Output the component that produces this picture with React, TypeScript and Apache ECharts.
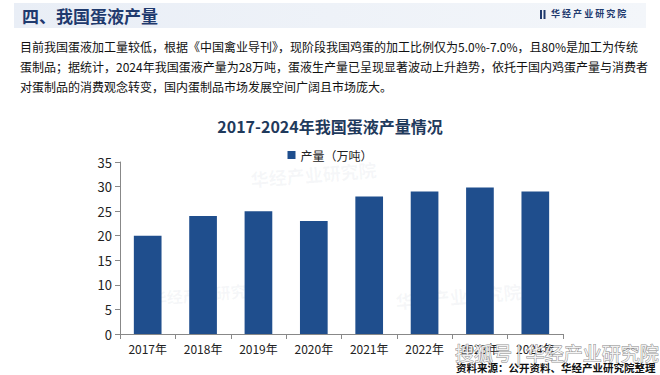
import React, { useEffect, useRef } from "react";
import * as echarts from "echarts";

const categories = ["2017年", "2018年", "2019年", "2020年", "2021年", "2022年", "2023年", "2024年"];
const production = [20, 24, 25, 23, 28, 29, 29.8, 29];
const yTicks = { min: 0, max: 35, interval: 5 };
const seriesName = "产量（万吨）";
const chartTitle = "2017-2024年我国蛋液产量情况";
const heading = "四、我国蛋液产量";
const brand = "华经产业研究院";
const paragraph = [
  "目前我国蛋液加工量较低，根据《中国禽业导刊》，现阶段我国鸡蛋的加工比例仅为5.0%-7.0%，且80%是加工为传统",
  "蛋制品；据统计，2024年我国蛋液产量为28万吨，蛋液生产量已呈现显著波动上升趋势，依托于国内鸡蛋产量与消费者",
  "对蛋制品的消费观念转变，国内蛋制品市场发展空间广阔且市场庞大。",
];
const sourceText = "资料来源：公开资料、华经产业研究院整理";
const stampText = "搜狐号 | 华经产业研究院";

const FONT = "'Noto Sans CJK SC', 'Noto Sans', sans-serif";

export default function App() {
  const ref = useRef<HTMLDivElement>(null);
  useEffect(() => {
    document.body.style.margin = "0";
    const chart = echarts.init(ref.current!, null, { renderer: "svg" });
    const wm = (x: number, y: number, size: number) => ({
      type: "text",
      x,
      y,
      rotation: 0.08,
      silent: true,
      style: { text: brand, fill: "rgba(150,165,190,0.09)", font: `bold ${size}px ${FONT}` },
    });
    chart.setOption({
      animation: false,
      backgroundColor: "#ffffff",
      textStyle: { fontFamily: FONT },
      title: {
        text: chartTitle,
        left: "center",
        top: 113,
        textStyle: { fontSize: 16, fontWeight: "bold", color: "#1f3a5c", fontFamily: FONT },
      },
      legend: {
        data: [seriesName],
        top: 144,
        left: "center",
        itemWidth: 8,
        itemHeight: 8,
        icon: "rect",
        itemGap: 6,
        textStyle: { fontSize: 12, color: "#222", fontFamily: FONT },
      },
      grid: { left: 120, right: 97, top: 162, bottom: 41 },
      xAxis: {
        type: "category",
        data: categories,
        axisLine: { lineStyle: { color: "#888" } },
        axisTick: { show: true, alignWithLabel: false, lineStyle: { color: "#888" } },
        axisLabel: { fontSize: 12, color: "#222", margin: 8, fontFamily: FONT },
      },
      yAxis: {
        type: "value",
        min: yTicks.min,
        max: yTicks.max,
        interval: yTicks.interval,
        splitLine: { show: false },
        axisLine: { show: true, lineStyle: { color: "#888" } },
        axisTick: { show: true, lineStyle: { color: "#888" } },
        axisLabel: { fontSize: 13, color: "#222", margin: 8, fontFamily: FONT },
      },
      series: [
        {
          name: seriesName,
          type: "bar",
          data: production,
          barWidth: "50%",
          itemStyle: { color: "#1f4e8d" },
          z: 3,
        },
      ],
      graphic: [
        {
          type: "rect",
          shape: { x: 14, y: 3, width: 632, height: 25 },
          style: {
            fill: new echarts.graphic.LinearGradient(0, 0, 1, 0, [
              { offset: 0, color: "#e9eef6" },
              { offset: 1, color: "#f3f6fa" },
            ]),
          },
          silent: true,
        },
        {
          type: "text",
          x: 22,
          y: 7,
          style: { text: heading, fill: "#1f3a6e", font: `bold 17px ${FONT}` },
        },
        {
          type: "rect",
          shape: { x: 540, y: 10, width: 2, height: 9 },
          style: { fill: "#1f3a6e" },
        },
        {
          type: "rect",
          shape: { x: 543.5, y: 10, width: 2, height: 9 },
          style: { fill: "#1f3a6e" },
        },
        {
          type: "text",
          x: 551,
          y: 9,
          style: { text: brand.split("").join(" "), fill: "#1f3a6e", font: `bold 9px ${FONT}` },
        },
        ...paragraph.map((line, i) => ({
          type: "text",
          x: 20,
          y: 40 + i * 20,
          style: { text: line, fill: "#111", font: `12px ${FONT}` },
        })),
        wm(250, 170, 18),
        wm(395, 292, 18),
        wm(150, 290, 16),
        {
          type: "text",
          x: 455,
          y: 343,
          z: 20,
          style: {
            text: stampText,
            fill: "rgba(255,255,255,0.85)",
            stroke: "rgba(90,90,90,0.7)",
            lineWidth: 1,
            font: `19px ${FONT}`,
          },
        },
        {
          type: "text",
          x: 456,
          y: 362,
          z: 21,
          style: { text: sourceText, fill: "#111", font: `bold 10.5px ${FONT}` },
        },
      ],
    });
    return () => chart.dispose();
  }, []);
  return (
    <div
      ref={ref}
      style={{ position: "absolute", left: 0, top: 0, width: 660, height: 375 }}
    />
  );
}
